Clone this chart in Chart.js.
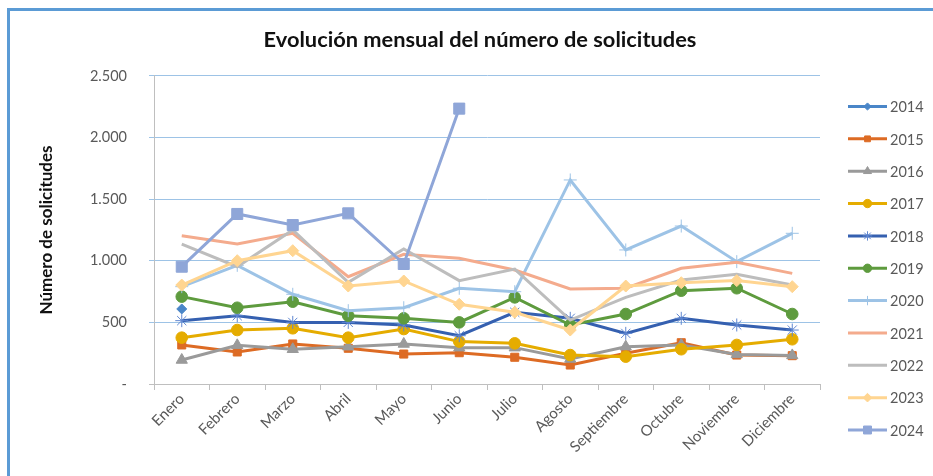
<!DOCTYPE html>
<html lang="es">
<head>
<meta charset="UTF-8">
<title>Evolución mensual del número de solicitudes</title>
<script src="https://cdn.jsdelivr.net/npm/chart.js"></script>
<style>
  body { margin: 0; background: #fff; }
  #wrap { position: relative; width: 933px; height: 476px; overflow: hidden; background: #fff; }
  #marco { position: absolute; left: 7px; top: 8px; width: 2000px; height: 2000px;
           border-left: 3px solid #5B9BD5; border-top: 3px solid #5B9BD5; }
  canvas { position: absolute; left: 0; top: 0; }
</style>
</head>
<body>
<div id="wrap">
  <div id="marco"></div>
  <canvas id="grafico" width="933" height="476"></canvas>
</div>
<script>
// datos
const meses = ['Enero', 'Febrero', 'Marzo', 'Abril', 'Mayo', 'Junio', 'Julio',
               'Agosto', 'Septiembre', 'Octubre', 'Noviembre', 'Diciembre'];
const anios = ['2014', '2015', '2016', '2017', '2018', '2019', '2020', '2021', '2022', '2023', '2024'];

const s2014 = [609, null, null, null, null, null, null, null, null, null, null, null];
const s2015 = [317, 260, 325, 290, 243, 254, 217, 154, 250, 335, 235, 230];
const s2016 = [195, 314, 282, 303, 325, 295, 295, 203, 303, 317, 240, 232];
const s2017 = [376, 438, 452, 376, 446, 344, 330, 235, 222, 282, 317, 363];
const s2018 = [514, 554, 500, 500, 479, 392, 582, 533, 411, 533, 479, 438];
const s2019 = [709, 619, 668, 554, 533, 500, 703, 479, 568, 757, 777, 568];
const s2020 = [790, 963, 728, 595, 619, 777, 749, 1656, 1088, 1282, 993, 1223];
const s2021 = [1204, 1136, 1223, 871, 1052, 1020, 925, 771, 777, 939, 988, 898];
const s2022 = [1136, 952, 1250, 825, 1096, 839, 933, 519, 703, 844, 890, 803];
const s2023 = [803, 1001, 1082, 795, 836, 647, 582, 438, 795, 822, 839, 790];
const s2024 = [952, 1380, 1290, 1385, 974, 2235, null, null, null, null, null, null];

const series = [s2014, s2015, s2016, s2017, s2018, s2019, s2020, s2021, s2022, s2023, s2024];

const ticksY = [0, 500, 1000, 1500, 2000, 2500];

// estilo de cada serie
const colores = ['#4A86C8', '#DD6B24', '#9A9A9A', '#E5AC00', '#3560B0', '#5E9B3E',
                 '#9DC3E6', '#F4AB8D', '#BDBDBD', '#FFD591', '#8FA6D8'];
const marcadores = ['rectRot', 'rect', 'triangle', 'circle', 'star', 'circle',
                    'cross', false, false, 'rectRot', 'rect'];
const radios = [5, 5.7, 6.5, 5.8, 6.5, 5.8, 6.5, 0, 0, 6, 7.8];

const fuente = 'Lato';

const datasets = anios.map((a, i) => ({
  label: a,
  data: series[i],
  borderColor: colores[i],
  backgroundColor: colores[i],
  borderWidth: 3,
  pointStyle: marcadores[i],
  pointRadius: radios[i],
  pointHoverRadius: radios[i],
  pointBorderColor: marcadores[i] === 'star' ? '#5F86D0' : colores[i],
  pointBorderWidth: 1,
  tension: 0,
  order: 10 - i
}));

function formatoMiles(v) {
  if (v === 0) return '-';
  return String(v).replace(/\B(?=(\d{3})+(?!\d))/g, '.');
}

// leyenda al estilo de Excel: línea con marcador
const leyenda = {
  id: 'leyenda',
  afterDraw(chart) {
    const ctx = chart.ctx;
    const x0 = chart.chartArea.right + 28;
    const y0 = 106.5;
    const paso = 32.35;
    chart.data.datasets.forEach((ds, i) => {
      const y = y0 + i * paso;
      ctx.save();
      ctx.strokeStyle = ds.borderColor;
      ctx.fillStyle = ds.backgroundColor;
      ctx.lineWidth = 3;
      ctx.beginPath();
      ctx.moveTo(x0, y);
      ctx.lineTo(x0 + 39, y);
      ctx.stroke();
      if (ds.pointRadius > 0) {
        ctx.strokeStyle = ds.pointBorderColor;
        ctx.lineWidth = ds.pointBorderWidth;
        Chart.helpers.drawPoint(ctx, {
          pointStyle: ds.pointStyle,
          radius: ds.pointRadius * 0.72,
          borderWidth: ds.pointBorderWidth,
          rotation: 0
        }, x0 + 19.5, y);
      }
      ctx.fillStyle = '#595959';
      ctx.font = '14.5px ' + fuente;
      ctx.textAlign = 'left';
      ctx.textBaseline = 'middle';
      ctx.fillText(ds.label, x0 + 42, y + 1);
      ctx.restore();
    });
  }
};

new Chart(document.getElementById('grafico'), {
  type: 'line',
  data: { labels: meses, datasets: datasets },
  options: {
    responsive: false,
    animation: false,
    devicePixelRatio: 1,
    layout: { padding: { left: 27, right: 0, top: 0, bottom: 0 } },
    plugins: {
      legend: { display: false },
      tooltip: { enabled: false },
      title: {
        display: true,
        text: 'Evolución mensual del número de solicitudes',
        color: '#111',
        font: { family: fuente, size: 21.8, weight: 'bold', lineHeight: 1.2 },
        padding: { top: 27, bottom: 22.8 }
      }
    },
    scales: {
      x: {
        offset: true,
        grid: { offset: true, drawOnChartArea: false, drawTicks: true, tickLength: 6, color: '#BFBFBF' },
        border: { color: '#BFBFBF', width: 1 },
        ticks: { color: '#595959', minRotation: 45, maxRotation: 45, padding: 0,
                 font: { family: fuente, size: 15 } },
        afterFit: s => { s.height = 92; }
      },
      y: {
        min: 0,
        max: 2500,
        afterBuildTicks: s => { s.ticks = ticksY.map(v => ({ value: v })); },
        grid: {
          color: c => (c.tick && c.tick.value === 0) ? '#BFBFBF' : '#9DC3E6',
          tickLength: 5
        },
        border: { color: '#BFBFBF', width: 1 },
        ticks: { color: '#595959', padding: 22, callback: v => formatoMiles(v),
                 font: { family: fuente, size: 14.5 } },
        title: {
          display: true,
          text: 'Número de solicitudes',
          color: '#111',
          font: { family: fuente, size: 17, weight: 'bold', lineHeight: 1.2 },
          padding: { top: 9.5, bottom: 0 }
        },
        afterFit: s => { s.width = 127; }
      },
      hueco: {
        type: 'linear',
        position: 'right',
        display: true,
        grid: { display: false },
        border: { display: false },
        ticks: { display: false },
        afterFit: s => { s.width = 113; }
      }
    }
  },
  plugins: [leyenda]
});
</script>
</body>
</html>
